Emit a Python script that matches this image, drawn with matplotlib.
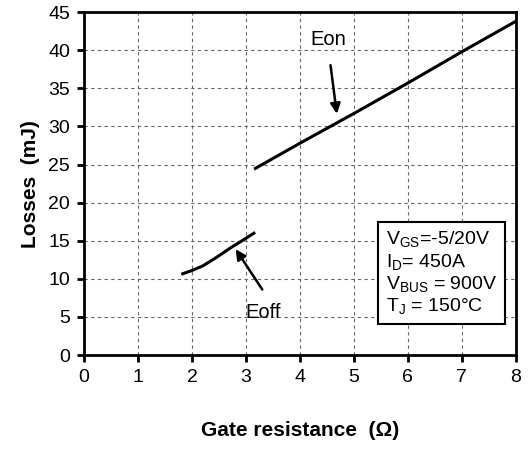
import numpy as np
import matplotlib
matplotlib.use('Agg')
import matplotlib.pyplot as plt

plt.rcParams['font.family'] = ['Liberation Sans', 'DejaVu Sans']
plt.rcParams['mathtext.fontset'] = 'custom'
plt.rcParams['mathtext.rm'] = 'Liberation Sans'
plt.rcParams['mathtext.it'] = 'Liberation Sans'

# Données
rg_on = [3.15, 4.0, 5.0, 6.0, 7.0, 8.0]
eon = [24.4, 27.8, 31.7, 35.7, 39.8, 43.8]

rg_off = [1.8, 2.0, 2.2, 2.45, 2.72, 2.95, 3.17]
eoff = [10.6, 11.1, 11.7, 12.8, 14.1, 15.1, 16.1]

xticks = [0, 1, 2, 3, 4, 5, 6, 7, 8]
yticks = [0, 5, 10, 15, 20, 25, 30, 35, 40, 45]

fig = plt.figure(figsize=(5.29, 4.5), dpi=100)
ax = fig.add_axes([0.159, 0.211, 0.816, 0.762])

ax.plot(rg_on, eon, c='black', lw=2.2, solid_capstyle='butt')
ax.plot(rg_off, eoff, c='black', lw=2.2, solid_capstyle='butt', solid_joinstyle='round')

ax.set_xlim(0, 8)
ax.set_ylim(0, 45)
ax.set_xticks(xticks)
ax.set_yticks(yticks)
ax.grid(True, ls=(0, (3, 3)), color='#666666', lw=0.8)
for s in ax.spines.values():
    s.set_linewidth(2)
ax.tick_params(direction='out', length=5, width=2, labelsize=14, pad=5)

ax.set_xlabel('Gate resistance  (Ω)', fontsize=15, fontweight='bold', labelpad=25)
ax.set_ylabel('Losses  (mJ)', fontsize=15, fontweight='bold', labelpad=6)

# Annotations
ax.annotate('', xy=(4.69, 31.3), xytext=(4.56, 38.4),
            arrowprops=dict(arrowstyle='-|>', color='black', lw=1.8, mutation_scale=15))
ax.text(4.52, 41.4, 'Eon', fontsize=14.5, ha='center', va='center')

ax.annotate('', xy=(2.78, 14.2), xytext=(3.33, 8.3),
            arrowprops=dict(arrowstyle='-|>', color='black', lw=1.8, mutation_scale=15))
ax.text(3.31, 5.6, 'Eoff', fontsize=14.5, ha='center', va='center')

# Conditions de test
txt = ('$\\mathregular{V_{GS}}$=-5/20V\n'
       '$\\mathregular{I_D}$= 450A\n'
       '$\\mathregular{V_{BUS}}$ = 900V\n'
       '$\\mathregular{T_J}$ = 150°C')
ax.text(5.6, 10.8, txt, fontsize=14, ha='left', va='center', linespacing=1.15,
        bbox=dict(boxstyle='square,pad=0.4', fc='white', ec='black', lw=1.5))

fig.savefig('out.png', dpi=100)
